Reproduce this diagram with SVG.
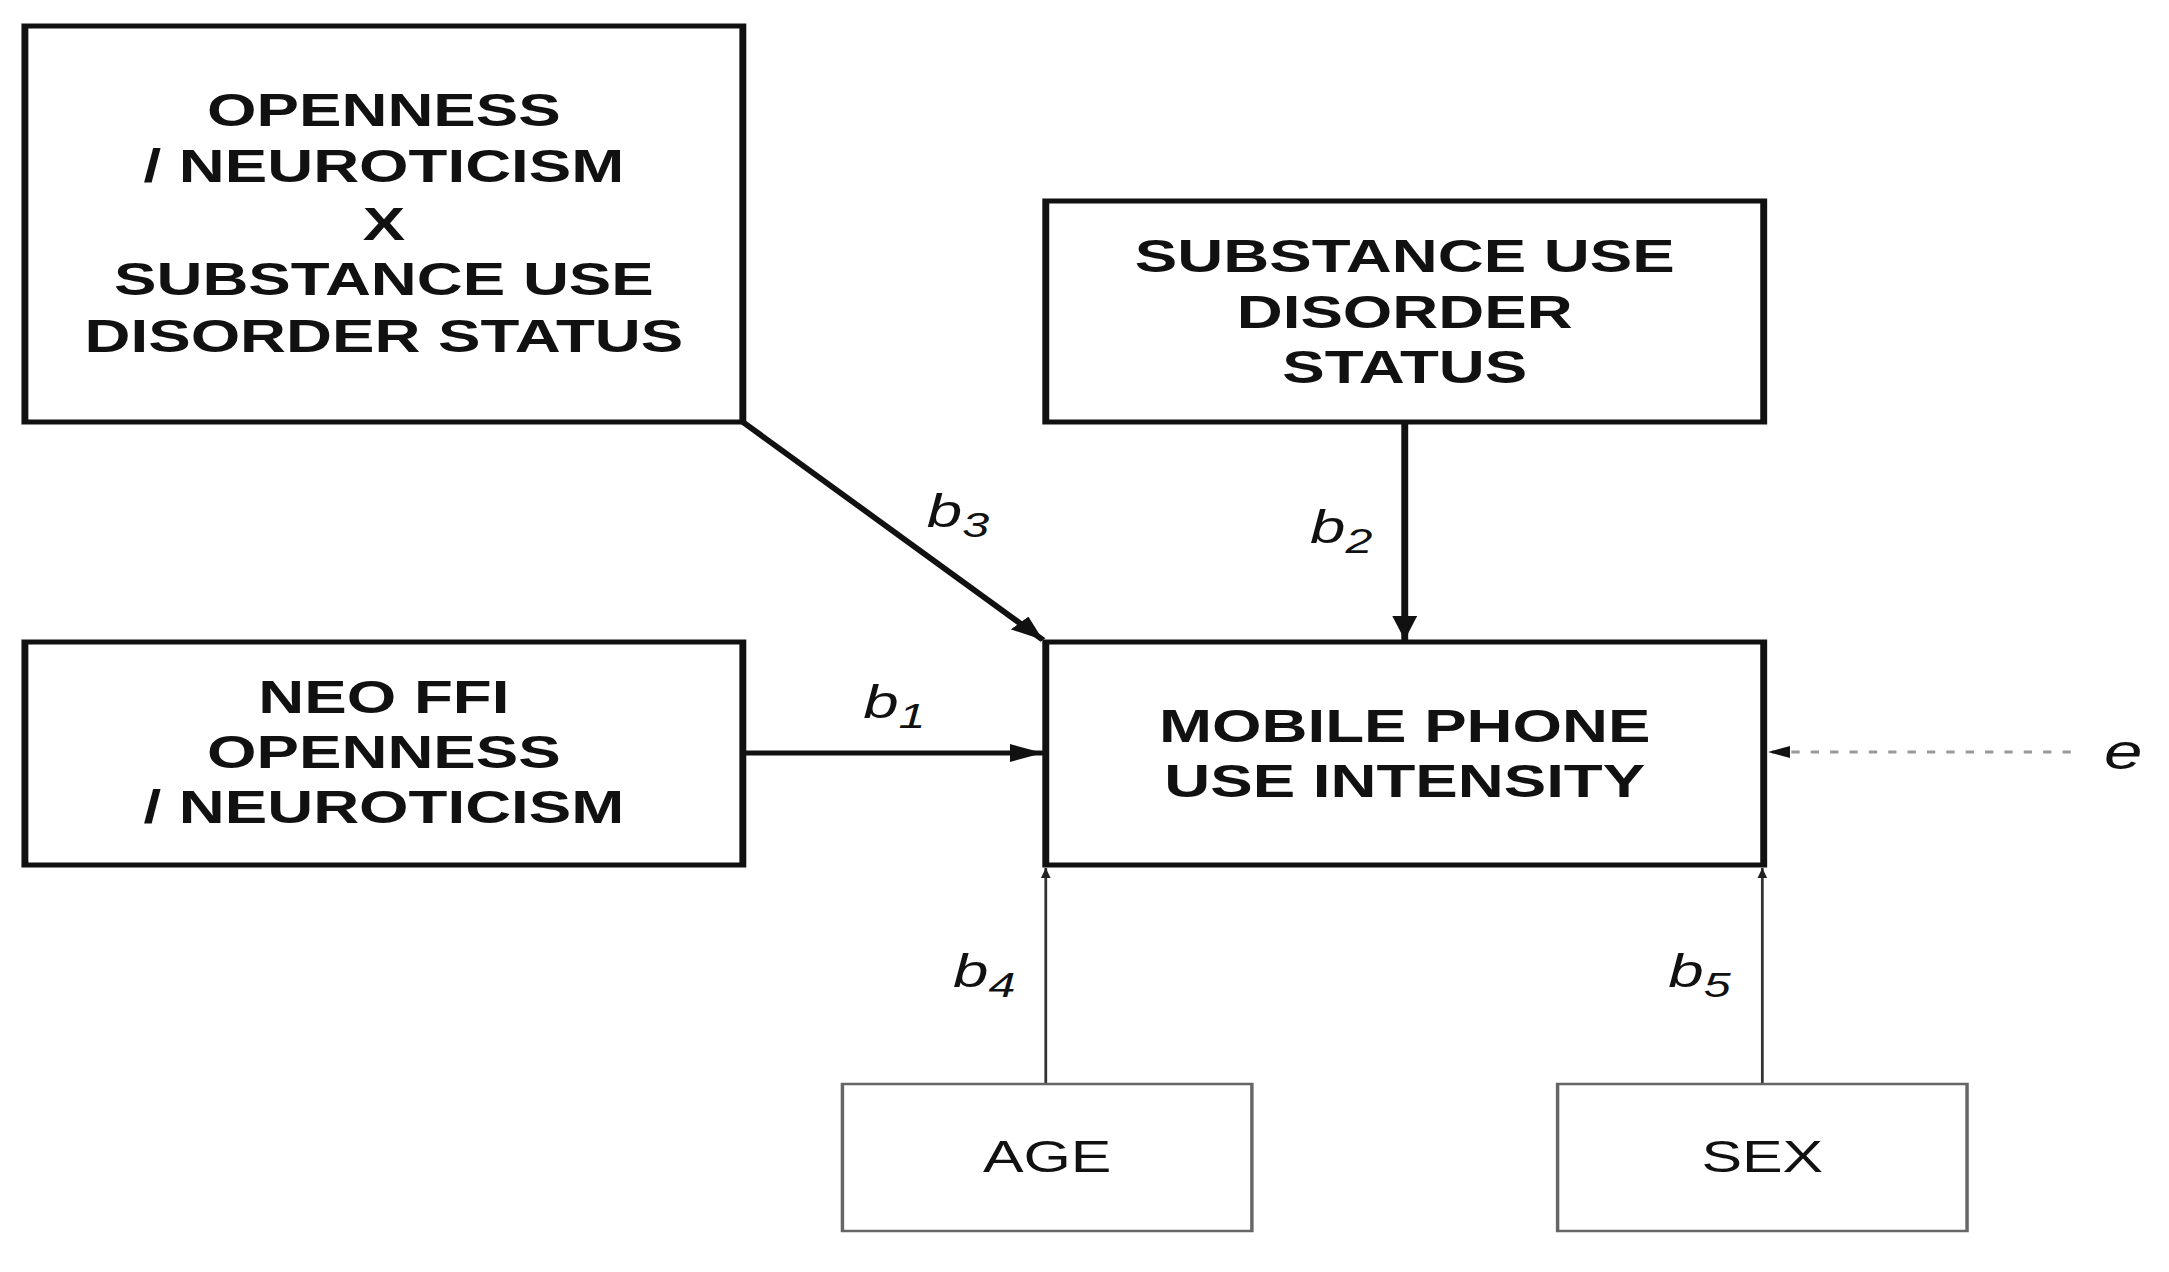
<svg xmlns="http://www.w3.org/2000/svg" width="2169" height="1272" viewBox="0 0 2169 1272">
<style>
.box{fill:#fff;stroke:#111;stroke-width:5}
.sbox{fill:#fff;stroke:#666;stroke-width:2.5}
.t{font-family:"Liberation Sans",Arial,Helvetica,sans-serif;font-weight:bold;font-size:46px;fill:#111;text-anchor:middle}
.tr{font-family:"Liberation Sans",Arial,Helvetica,sans-serif;font-size:44px;fill:#111;text-anchor:middle}
.lab{font-family:"Liberation Sans",Arial,Helvetica,sans-serif;font-style:italic;font-size:46px;fill:#111}
.sub{font-size:35px}
.thick{stroke:#111;stroke-width:5;fill:none}
.thin{stroke:#333;stroke-width:2;fill:none}
.dash{stroke:#999;stroke-width:3;stroke-dasharray:6 8;fill:none}
</style>
<defs>
<marker id="ah" markerUnits="userSpaceOnUse" viewBox="0 0 24 18" markerWidth="24" markerHeight="18" refX="24" refY="9" orient="auto"><path d="M0,0 L24,9 L0,18 z" fill="#111"/></marker>
<marker id="ahs" markerUnits="userSpaceOnUse" viewBox="0 0 10 7" markerWidth="10" markerHeight="7" refX="10" refY="3.5" orient="auto"><path d="M0,0 L10,3.5 L0,7 z" fill="#222"/></marker>
<marker id="ahe" markerUnits="userSpaceOnUse" viewBox="0 0 16 12" markerWidth="16" markerHeight="12" refX="16" refY="6" orient="auto"><path d="M0,0 L16,6 L0,12 z" fill="#111"/></marker>
</defs>
<rect width="2169" height="1272" fill="#fff"/>
<g transform="scale(1.3833,1)">
  <g id="connectors">
    <path class="thick" d="M537,422 L754,640" marker-end="url(#ah)"/>
    <path class="thick" d="M1015.5,424 L1015.5,640" marker-end="url(#ah)"/>
    <path class="thick" d="M539,753 L754,753" marker-end="url(#ah)"/>
    <path class="thin" d="M756,1083 L756,868" marker-end="url(#ahs)"/>
    <path class="thin" d="M1274,1083 L1274,868" marker-end="url(#ahs)"/>
    <path class="dash" d="M1497,752 L1278,752" marker-end="url(#ahe)"/>
    <text class="lab" x="670" y="527">b<tspan class="sub" dy="10">3</tspan></text>
    <text class="lab" x="947" y="543">b<tspan class="sub" dy="10">2</tspan></text>
    <text class="lab" x="624" y="718">b<tspan class="sub" dy="10">1</tspan></text>
    <text class="lab" x="689" y="987">b<tspan class="sub" dy="10">4</tspan></text>
    <text class="lab" x="1206" y="987">b<tspan class="sub" dy="10">5</tspan></text>
    <text class="lab" x="1521" y="769" style="font-size:50px">e</text>
  </g>
  <g id="interaction">
    <rect class="box" x="18" y="26" width="519" height="396"/>
    <text class="t" x="277.5" y="126.5">OPENNESS</text>
    <text class="t" x="277.5" y="182.5">/ NEUROTICISM</text>
    <text class="t" x="277.5" y="240">X</text>
    <text class="t" x="277.5" y="295.5">SUBSTANCE USE</text>
    <text class="t" x="277.5" y="352">DISORDER STATUS</text>
  </g>
  <g id="sud">
    <rect class="box" x="756" y="201" width="519" height="221"/>
    <text class="t" x="1015.5" y="272">SUBSTANCE USE</text>
    <text class="t" x="1015.5" y="328">DISORDER</text>
    <text class="t" x="1015.5" y="383">STATUS</text>
  </g>
  <g id="neo">
    <rect class="box" x="18" y="642" width="519" height="223"/>
    <text class="t" x="277.5" y="713">NEO FFI</text>
    <text class="t" x="277.5" y="768">OPENNESS</text>
    <text class="t" x="277.5" y="823">/ NEUROTICISM</text>
  </g>
  <g id="mobile">
    <rect class="box" x="756" y="642" width="519" height="223"/>
    <text class="t" x="1015.5" y="742">MOBILE PHONE</text>
    <text class="t" x="1015.5" y="797">USE INTENSITY</text>
  </g>
  <g id="age">
    <rect class="sbox" x="609" y="1084" width="296" height="147"/>
    <text class="tr" x="757" y="1172">AGE</text>
  </g>
  <g id="sex">
    <rect class="sbox" x="1126" y="1084" width="296" height="147"/>
    <text class="tr" x="1274" y="1172">SEX</text>
  </g>
</g>
</svg>
